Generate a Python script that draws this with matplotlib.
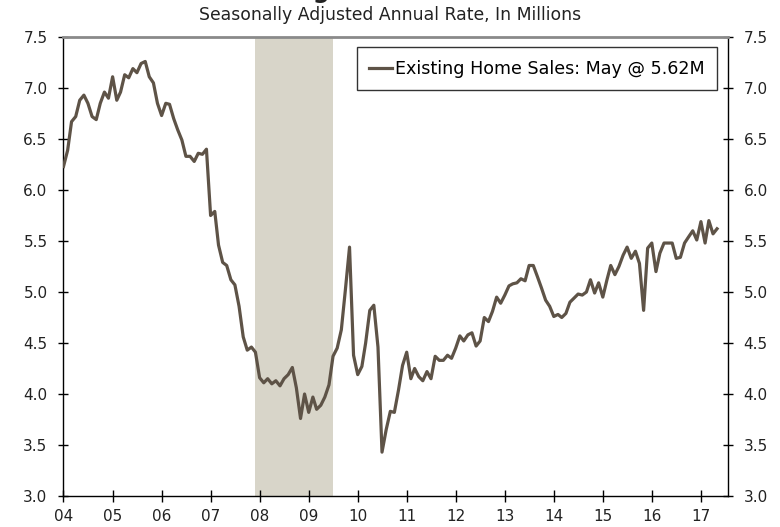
import matplotlib
matplotlib.use("Agg")
import matplotlib.pyplot as plt
import matplotlib.dates as mdates
import pandas as pd

# existing home sales, SAAR, millions (monthly)
sales_2004 = [6.23, 6.39, 6.67, 6.72, 6.88, 6.93, 6.85, 6.72, 6.69, 6.85, 6.96, 6.90]
sales_2005 = [7.11, 6.88, 6.96, 7.13, 7.10, 7.19, 7.15, 7.24, 7.26, 7.11, 7.05, 6.85]
sales_2006 = [6.73, 6.85, 6.84, 6.70, 6.59, 6.49, 6.33, 6.33, 6.28, 6.36, 6.35, 6.40]
sales_2007 = [5.75, 5.79, 5.46, 5.29, 5.26, 5.12, 5.07, 4.86, 4.56, 4.43, 4.46, 4.41]
sales_2008 = [4.16, 4.11, 4.15, 4.10, 4.13, 4.08, 4.15, 4.19, 4.26, 4.06, 3.76, 4.00]
sales_2009 = [3.82, 3.97, 3.85, 3.89, 3.97, 4.09, 4.37, 4.45, 4.63, 5.02, 5.44, 4.38]
sales_2010 = [4.19, 4.27, 4.50, 4.82, 4.87, 4.46, 3.43, 3.65, 3.83, 3.82, 4.04, 4.28]
sales_2011 = [4.41, 4.15, 4.25, 4.17, 4.13, 4.22, 4.15, 4.37, 4.33, 4.33, 4.38, 4.35]
sales_2012 = [4.45, 4.57, 4.52, 4.58, 4.60, 4.47, 4.52, 4.75, 4.71, 4.81, 4.95, 4.89]
sales_2013 = [4.97, 5.06, 5.08, 5.09, 5.13, 5.11, 5.26, 5.26, 5.15, 5.04, 4.92, 4.86]
sales_2014 = [4.76, 4.78, 4.75, 4.79, 4.90, 4.94, 4.98, 4.97, 5.00, 5.12, 4.99, 5.09]
sales_2015 = [4.95, 5.12, 5.26, 5.17, 5.25, 5.36, 5.44, 5.33, 5.40, 5.28, 4.82, 5.43]
sales_2016 = [5.48, 5.20, 5.38, 5.48, 5.48, 5.48, 5.33, 5.34, 5.48, 5.54, 5.60, 5.51]
sales_2017 = [5.69, 5.48, 5.70, 5.57, 5.62]

recession_start = "2007-12-01"
recession_end = "2009-06-30"
yticks = [3.0, 3.5, 4.0, 4.5, 5.0, 5.5, 6.0, 6.5, 7.0, 7.5]

sales = (sales_2004 + sales_2005 + sales_2006 + sales_2007 + sales_2008
         + sales_2009 + sales_2010 + sales_2011 + sales_2012 + sales_2013
         + sales_2014 + sales_2015 + sales_2016 + sales_2017)
dates = pd.date_range("2004-01-01", periods=len(sales), freq="MS")

line_color = "#5e5347"
shade_color = "#d8d5c9"

plt.rcParams["font.family"] = ["DejaVu Sans"]

fig = plt.figure(figsize=(7.8, 5.27), dpi=100)
ax = fig.add_axes([0.0814, 0.0588, 0.8513, 0.871])

ax.axvspan(pd.Timestamp(recession_start), pd.Timestamp(recession_end),
           color=shade_color, lw=0, zorder=0)
ax.plot(dates, sales, color=line_color, lw=2.3, zorder=3,
        label="Existing Home Sales: May @ 5.62M")

ax.set_ylim(3.0, 7.5)
ax.set_yticks(yticks)
ax.yaxis.set_major_formatter(matplotlib.ticker.FormatStrFormatter("%.1f"))
ax.set_xlim(pd.Timestamp("2004-01-01"), pd.Timestamp("2017-07-18"))
ax.xaxis.set_major_locator(mdates.YearLocator())
ax.xaxis.set_major_formatter(mdates.DateFormatter("%y"))

ax.tick_params(axis="y", which="both", direction="inout", length=7, width=1,
               labelsize=11, labelcolor="#222222", left=True, right=True,
               labelleft=True, labelright=True, pad=8)
ax.tick_params(axis="x", direction="inout", length=8, width=1,
               labelsize=11, labelcolor="#222222", pad=5)

for side in ["left", "right", "bottom"]:
    ax.spines[side].set_color("black")
    ax.spines[side].set_linewidth(1.0)
ax.spines["top"].set_color("#8a8a8a")
ax.spines["top"].set_linewidth(2.0)

leg = ax.legend(loc="upper right", fontsize=12.6, frameon=True, fancybox=False,
                handlelength=1.3, handletextpad=0.2, borderaxespad=0.6,
                borderpad=0.7)
leg.get_frame().set_edgecolor("black")
leg.get_frame().set_linewidth(1.0)

# main title sits mostly above the canvas, only descenders show
fig.text(0.46, 1.003, "Existing Home Sales", ha="center", va="baseline",
         fontsize=17, fontweight="bold", color="#222222")
fig.text(0.5, 0.971, "Seasonally Adjusted Annual Rate, In Millions",
         ha="center", va="center", fontsize=12.4, color="#222222")

fig.savefig("out.png", dpi=100)
